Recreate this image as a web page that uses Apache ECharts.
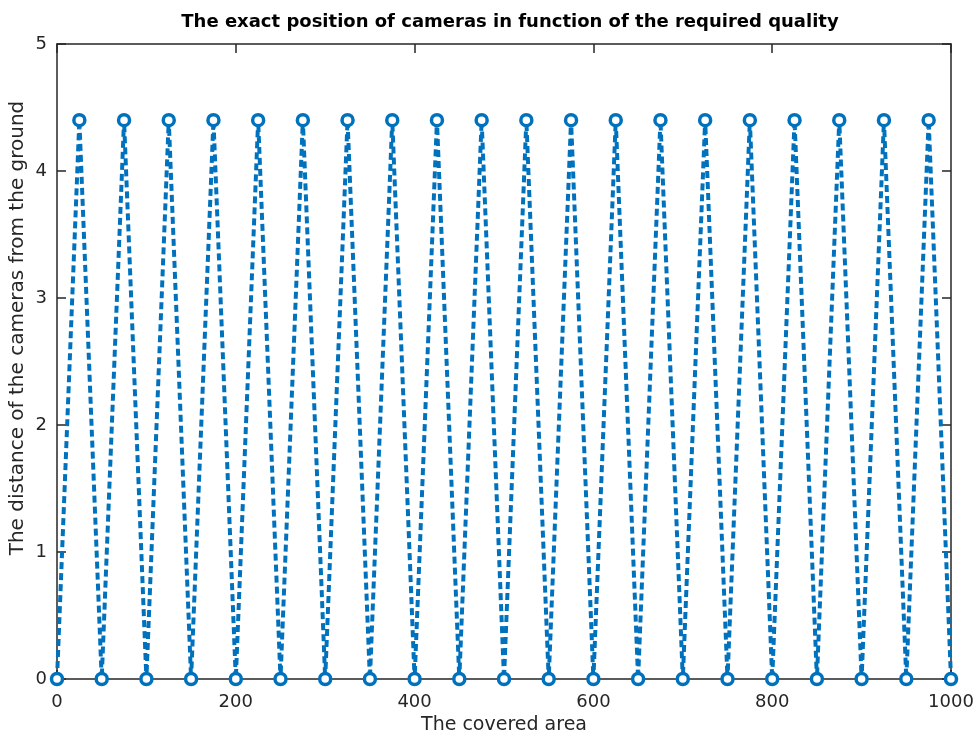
<!DOCTYPE html>
<html>
<head>
<meta charset="utf-8">
<script src="https://cdn.jsdelivr.net/npm/echarts@6/dist/echarts.min.js"></script>
<style>
  html, body { margin: 0; padding: 0; background: #fff; }
  #chart { width: 980px; height: 736px; }
</style>
</head>
<body>
<div id="chart"></div>
<script>
// Camera positions along the covered area and their height above ground
const coveredArea = [0, 25, 50, 75, 100, 125, 150, 175, 200, 225, 250, 275, 300, 325, 350, 375, 400,
  425, 450, 475, 500, 525, 550, 575, 600, 625, 650, 675, 700, 725, 750, 775, 800, 825, 850, 875, 900,
  925, 950, 975, 1000];
const cameraHeight = [0, 4.4, 0, 4.4, 0, 4.4, 0, 4.4, 0, 4.4, 0, 4.4, 0, 4.4, 0, 4.4, 0,
  4.4, 0, 4.4, 0, 4.4, 0, 4.4, 0, 4.4, 0, 4.4, 0, 4.4, 0, 4.4, 0, 4.4, 0, 4.4, 0,
  4.4, 0, 4.4, 0];
const xTicks = [0, 200, 400, 600, 800, 1000];
const yTicks = [0, 1, 2, 3, 4, 5];

const titleText = 'The exact position of cameras in function of the required quality';
const xLabel = 'The covered area';
const yLabel = 'The distance of the cameras from the ground';

const font = '"DejaVu Sans", Helvetica, Arial, sans-serif';
const axisColor = '#262626';
const lineBlue = '#0072BD';

const points = coveredArea.map((x, i) => [x, cameraHeight[i]]);

// Box-style axis: line plus inward ticks, no grid lines
function boxAxis(extra) {
  return Object.assign({
    axisLine: { show: true, onZero: false, lineStyle: { color: axisColor, width: 1.5 } },
    axisTick: { show: true, inside: true, length: 9, lineStyle: { color: axisColor, width: 1.5 } },
    splitLine: { show: false }
  }, extra);
}

const chart = echarts.init(document.getElementById('chart'), null, { renderer: 'canvas' });
chart.setOption({
  backgroundColor: '#ffffff',
  animation: false,
  title: {
    text: titleText,
    left: 505,
    textAlign: 'center',
    top: 8,
    textStyle: { fontFamily: font, fontWeight: 'bold', fontSize: 18, color: '#000' }
  },
  grid: { left: 57, right: 29, top: 44, bottom: 57, containLabel: false, outerBoundsMode: 'none' },
  xAxis: [
    boxAxis({
      type: 'value', min: xTicks[0], max: xTicks[xTicks.length - 1], interval: 200,
      position: 'bottom',
      name: xLabel, nameLocation: 'middle', nameGap: 37,
      nameTextStyle: { fontFamily: font, fontSize: 19, color: axisColor },
      axisLabel: { fontFamily: font, fontSize: 18, color: axisColor, margin: 14,
        formatter: v => String(v) }
    }),
    boxAxis({
      type: 'value', min: xTicks[0], max: xTicks[xTicks.length - 1], interval: 200,
      position: 'top', axisLabel: { show: false }
    })
  ],
  yAxis: [
    boxAxis({
      type: 'value', min: yTicks[0], max: yTicks[yTicks.length - 1], interval: 1,
      position: 'left',
      axisLabel: { fontFamily: font, fontSize: 18, color: axisColor, margin: 10 }
    }),
    boxAxis({
      type: 'value', min: yTicks[0], max: yTicks[yTicks.length - 1], interval: 1,
      position: 'right', axisLabel: { show: false }
    })
  ],
  graphic: [{
    type: 'text',
    x: 18,
    y: 328,
    rotation: Math.PI / 2,
    style: {
      text: yLabel,
      fontFamily: font,
      fontSize: 20,
      fill: axisColor,
      textAlign: 'center',
      textVerticalAlign: 'middle'
    }
  }],
  series: [{
    type: 'line',
    data: points,
    xAxisIndex: 0,
    yAxisIndex: 0,
    symbol: 'circle',
    symbolSize: 11,
    showAllSymbol: true,
    clip: false,
    lineStyle: { color: lineBlue, width: 4, type: [7, 4] },
    itemStyle: { color: '#ffffff', borderColor: lineBlue, borderWidth: 3.5 },
    z: 3
  }]
});
</script>
</body>
</html>
